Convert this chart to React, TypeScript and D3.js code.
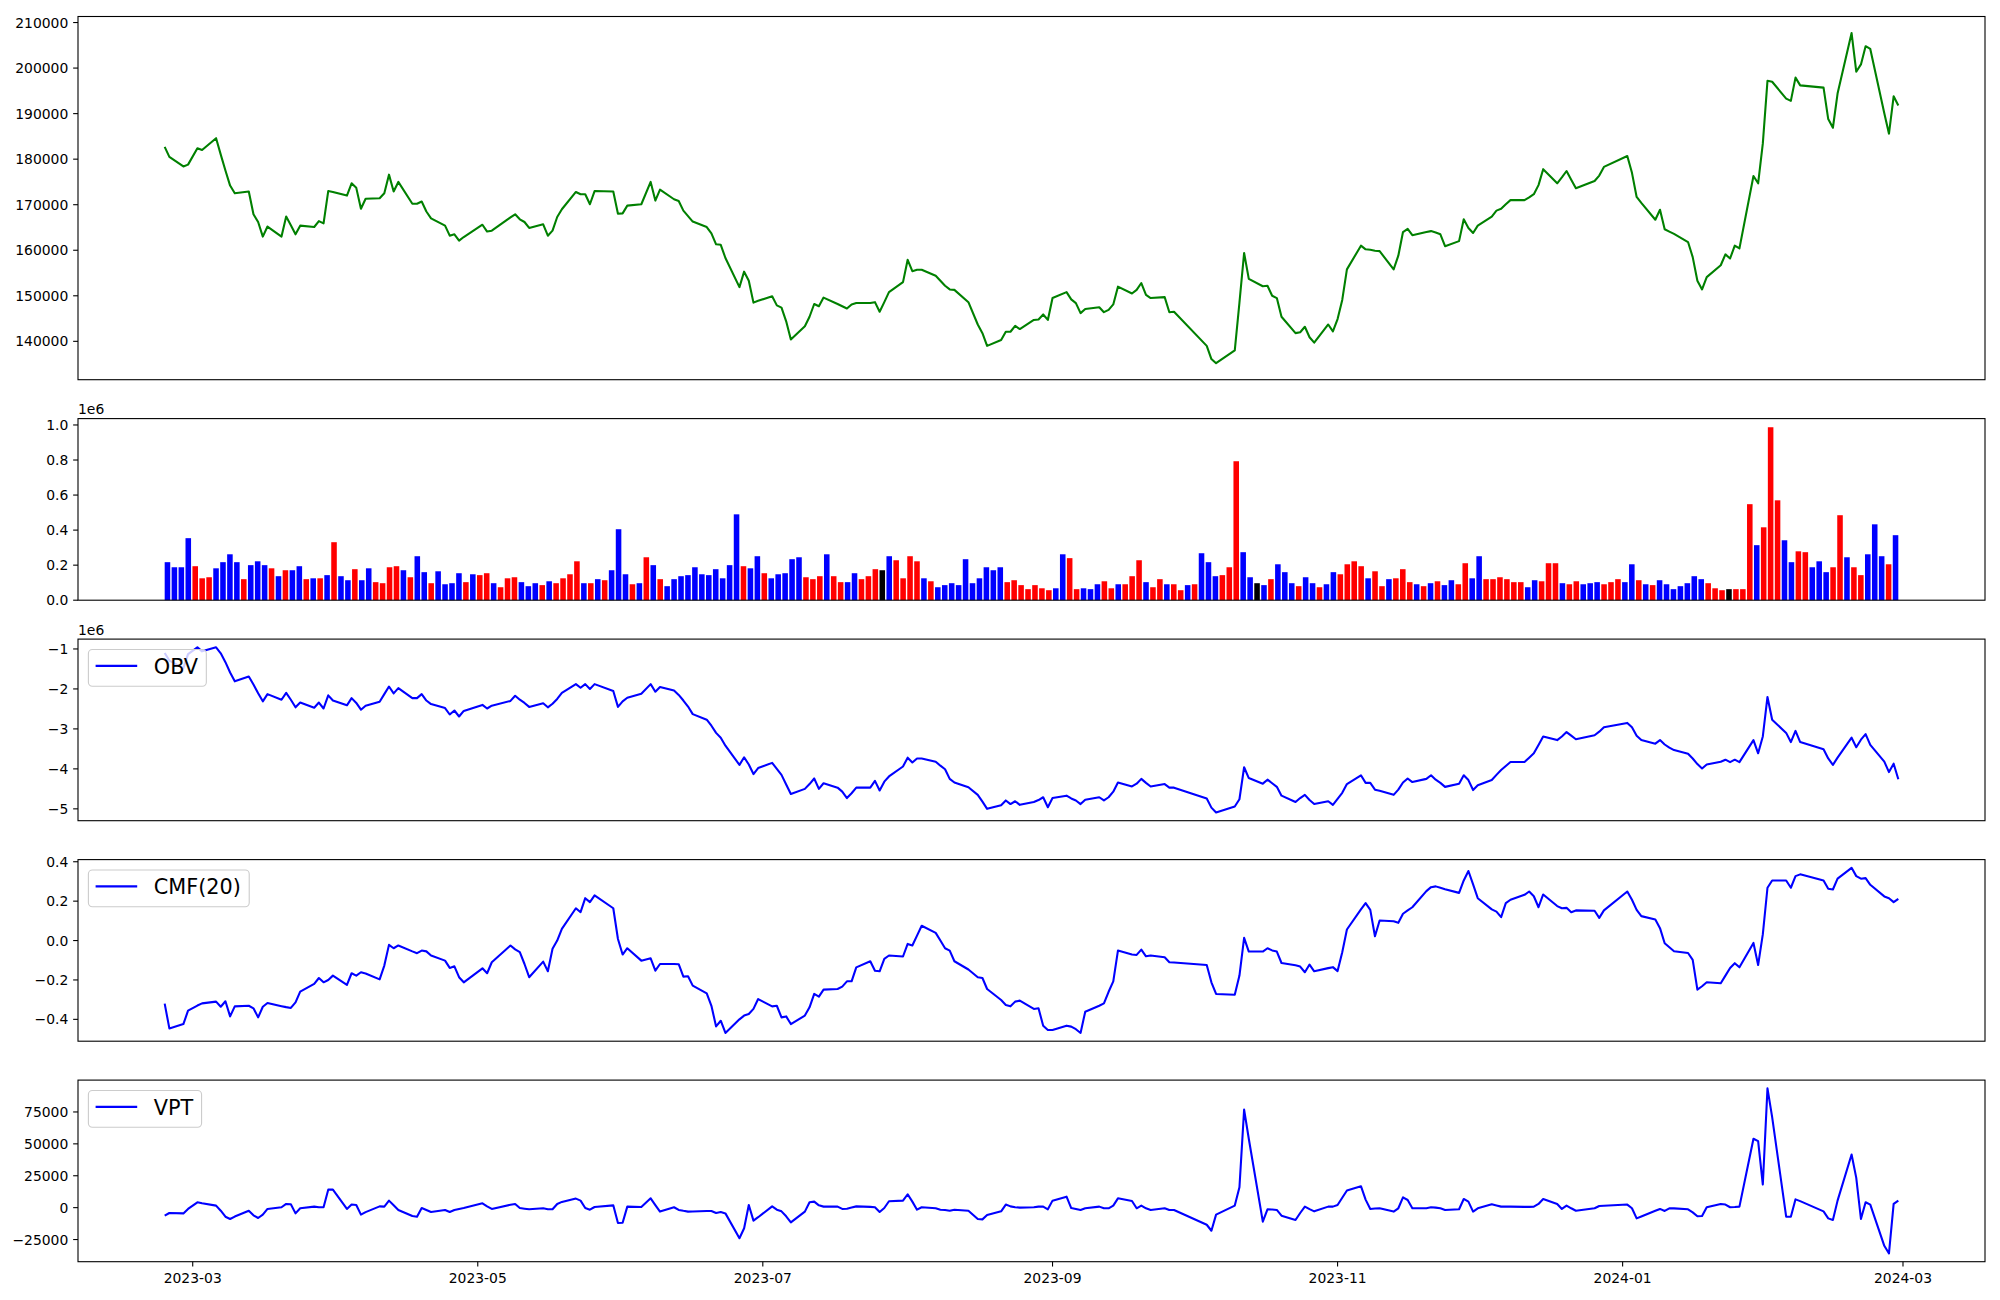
import React from "react";
import * as d3 from "d3";

// ---------- categories ----------
const FIRST_DAY = "2023-02-23";
const LAST_DAY = "2024-02-29";
const HOLIDAYS = [
  "2023-03-01", "2023-05-01", "2023-05-05", "2023-05-29", "2023-06-06", "2023-08-15",
  "2023-09-28", "2023-09-29", "2023-10-02", "2023-10-03", "2023-10-09", "2023-12-25",
  "2023-12-29", "2024-01-01", "2024-02-09", "2024-02-12",
];
const X_TICKS = ["2023-03-01", "2023-05-01", "2023-07-01", "2023-09-01", "2023-11-01", "2024-01-01", "2024-03-01"];
const X_TICK_LABELS = ["2023-03", "2023-05", "2023-07", "2023-09", "2023-11", "2024-01", "2024-03"];

// ---------- series ----------
const PRICE = [
  182700, 180500, 178400, 178800, 182400, 182000, 184600, 181000, 177500, 174200,
  172500, 172900, 167900, 166200, 163000, 165200, 163000, 167400, 165500, 163500,
  165400, 165100, 166400, 165900, 173000, 172800, 172000, 174700, 173700, 169100,
  171300, 171400, 172500, 176600, 172900, 175000, 170200, 170200, 170700, 168500,
  167000, 165400, 163200, 163500, 162100, 162900, 165600, 164100, 164300, 167200,
  167900, 166800, 166200, 164900, 165700, 163200, 164300, 167300, 169000, 172800,
  172300, 172300, 170100, 173000, 172900, 168000, 168100, 169800, 170100, 175000,
  170900, 173300, 171200, 170800, 168700, 167500, 166300, 165100, 163700, 161300,
  161200, 158300, 151900, 155300, 153300, 148500, 148900, 149900, 147900, 147400,
  144400, 140400, 143300, 145400, 148200, 147700, 149600, 148200, 147700, 147200,
  148100, 148400, 148400, 148600, 146500, 148600, 150800, 153000, 157900, 155400,
  155700, 155700, 154400, 153300, 152200, 151400, 151300, 148600, 143700, 141800,
  139000, 140300, 142100, 142100, 143400, 142700, 144700, 144800, 145900, 144700,
  149500, 150800, 149200, 148400, 146200, 147100, 147500, 146400, 146900, 148100,
  152000, 150500, 151300, 152800, 150200, 149500, 149700, 146400, 146500, 139000,
  136100, 135200, 138000, 148500, 159400, 153700, 152100, 152200, 150000, 149500,
  145400, 141800, 142000, 143200, 140900, 139700, 143700, 142200, 144900, 149100,
  155800, 161000, 160200, 160100, 159900, 159800, 155800, 158800, 164000, 164700,
  163300, 164000, 164200, 163900, 163500, 160900, 162000, 166800, 164900, 163800,
  165400, 167400, 168700, 169100, 170100, 171000, 171000, 171600, 172300, 174300,
  177800, 174700, 176000, 177400, 175500, 173600, 175200, 176400, 178300, 180700,
  177000, 171700, 170400, 166700, 168900, 164600, 164100, 163600, 161800, 158500,
  153300, 151400, 154100, 156700, 159100, 158200, 161000, 160400, 176300, 174700,
  183400, 197200, 197000, 193300, 192800, 197900, 196200, 195700, 188800, 186900,
  194400, 207700, 199200, 200800, 204800, 204200, 190100, 185600, 193800, 191800,
];

// volume in units of 1e6
const VOLUME_1E6 = [
  0.217, 0.188, 0.188, 0.354, 0.194, 0.125, 0.131, 0.182, 0.217, 0.262,
  0.217, 0.120, 0.200, 0.222, 0.200, 0.182, 0.137, 0.171, 0.171, 0.194,
  0.120, 0.125, 0.125, 0.143, 0.331, 0.137, 0.114, 0.177, 0.114, 0.182,
  0.103, 0.097, 0.188, 0.194, 0.171, 0.131, 0.251, 0.160, 0.097, 0.165,
  0.091, 0.097, 0.154, 0.103, 0.148, 0.143, 0.154, 0.097, 0.074, 0.125,
  0.131, 0.103, 0.080, 0.097, 0.086, 0.108, 0.097, 0.125, 0.148, 0.222,
  0.097, 0.097, 0.120, 0.114, 0.171, 0.405, 0.148, 0.091, 0.097, 0.245,
  0.200, 0.120, 0.080, 0.120, 0.137, 0.143, 0.188, 0.148, 0.143, 0.177,
  0.125, 0.200, 0.490, 0.194, 0.182, 0.251, 0.154, 0.125, 0.148, 0.154,
  0.234, 0.245, 0.131, 0.120, 0.137, 0.262, 0.137, 0.103, 0.103, 0.154,
  0.120, 0.137, 0.177, 0.171, 0.251, 0.228, 0.125, 0.251, 0.222, 0.125,
  0.108, 0.074, 0.086, 0.097, 0.086, 0.234, 0.097, 0.125, 0.188, 0.171,
  0.188, 0.103, 0.114, 0.086, 0.063, 0.086, 0.068, 0.057, 0.068, 0.262,
  0.240, 0.063, 0.068, 0.063, 0.091, 0.108, 0.068, 0.091, 0.091, 0.137,
  0.228, 0.103, 0.074, 0.120, 0.091, 0.091, 0.057, 0.086, 0.091, 0.268,
  0.217, 0.137, 0.143, 0.188, 0.793, 0.274, 0.131, 0.097, 0.086, 0.120,
  0.205, 0.160, 0.097, 0.080, 0.131, 0.097, 0.074, 0.091, 0.160, 0.148,
  0.205, 0.222, 0.194, 0.125, 0.165, 0.080, 0.120, 0.125, 0.177, 0.103,
  0.091, 0.080, 0.097, 0.108, 0.086, 0.114, 0.091, 0.211, 0.125, 0.251,
  0.120, 0.120, 0.131, 0.120, 0.103, 0.103, 0.074, 0.114, 0.108, 0.211,
  0.211, 0.097, 0.091, 0.108, 0.091, 0.097, 0.103, 0.091, 0.103, 0.120,
  0.103, 0.205, 0.114, 0.091, 0.086, 0.114, 0.091, 0.063, 0.080, 0.097,
  0.137, 0.120, 0.097, 0.068, 0.057, 0.063, 0.063, 0.063, 0.548, 0.314,
  0.416, 0.987, 0.570, 0.342, 0.217, 0.279, 0.274, 0.188, 0.222, 0.160,
  0.188, 0.485, 0.245, 0.188, 0.143, 0.262, 0.433, 0.251, 0.205, 0.371,
];

// bar colour codes: R = up, B = down, K = unchanged
const BAR_DIR = (
  "BBBBRRRBBB" + "BRBBBRBRBB" + "RBRBRBBRBB" + "RRRRBRBBRB" + "BBBRBRRBRR" +
  "RBBBRBRRRR" + "BRBRBBBRBR" + "BRBBBBBBBB" + "BBBRBBRBBB" + "BBRRRBRRBB" +
  "RRRKBRRRRB" + "RBBBBBBBBB" + "BRRRRRRRBB" + "RRBBBRRBRR" + "RBRRBRRBRB" +
  "BBRRRBBKBR" + "BBBRBBRBBR" + "RRRBRRBRRR" + "BRBRBBRRBB" + "RRRRRRBBRR" +
  "RBRRBBBRRR" + "BBRBRBBBBB" + "BBRRRKRRRB" + "RRRBBRRBBB" + "RRBRRBBBRB"
).split("");

// OBV in units of 1e6
const OBV_1E6 = [
  -1.10, -1.29, -1.48, -1.13, -0.96, -1.06, -0.96, -1.11, -1.33, -1.59,
  -1.81, -1.69, -1.89, -2.11, -2.31, -2.13, -2.27, -2.10, -2.27, -2.46,
  -2.34, -2.47, -2.34, -2.49, -2.16, -2.29, -2.41, -2.23, -2.35, -2.52,
  -2.42, -2.32, -2.13, -1.94, -2.11, -1.98, -2.23, -2.23, -2.13, -2.29,
  -2.38, -2.48, -2.64, -2.54, -2.69, -2.55, -2.40, -2.49, -2.42, -2.30,
  -2.17, -2.27, -2.35, -2.45, -2.36, -2.46, -2.37, -2.25, -2.10, -1.88,
  -1.97, -1.88, -2.00, -1.88, -2.05, -2.45, -2.31, -2.22, -2.12, -1.88,
  -2.07, -1.95, -2.04, -2.15, -2.29, -2.44, -2.63, -2.77, -2.92, -3.10,
  -3.22, -3.42, -3.90, -3.71, -3.89, -4.13, -3.98, -3.85, -4.00, -4.15,
  -4.39, -4.63, -4.50, -4.38, -4.24, -4.50, -4.36, -4.47, -4.57, -4.73,
  -4.61, -4.47, -4.47, -4.30, -4.54, -4.32, -4.19, -3.94, -3.72, -3.84,
  -3.74, -3.74, -3.82, -3.92, -4.01, -4.25, -4.34, -4.46, -4.65, -4.82,
  -5.00, -4.91, -4.79, -4.88, -4.81, -4.90, -4.83, -4.78, -4.71, -4.96,
  -4.73, -4.67, -4.74, -4.79, -4.88, -4.77, -4.71, -4.79, -4.71, -4.57,
  -4.34, -4.44, -4.37, -4.25, -4.35, -4.44, -4.38, -4.47, -4.47, -4.74,
  -4.97, -5.09, -4.94, -4.76, -3.96, -4.23, -4.37, -4.27, -4.36, -4.45,
  -4.67, -4.83, -4.73, -4.65, -4.78, -4.88, -4.81, -4.90, -4.75, -4.60,
  -4.38, -4.16, -4.35, -4.35, -4.52, -4.55, -4.65, -4.52, -4.34, -4.24,
  -4.33, -4.25, -4.16, -4.27, -4.35, -4.45, -4.37, -4.16, -4.28, -4.53,
  -4.41, -4.28, -4.15, -4.03, -3.93, -3.83, -3.83, -3.72, -3.61, -3.40,
  -3.19, -3.28, -3.19, -3.08, -3.17, -3.26, -3.16, -3.07, -2.96, -2.85,
  -2.96, -3.17, -3.28, -3.37, -3.28, -3.39, -3.47, -3.53, -3.62, -3.74,
  -3.88, -3.99, -3.89, -3.82, -3.77, -3.83, -3.77, -3.83, -3.28, -3.61,
  -3.19, -2.20, -2.77, -3.10, -3.33, -3.05, -3.33, -3.51, -3.74, -3.90,
  -3.72, -3.22, -3.46, -3.27, -3.13, -3.40, -3.82, -4.08, -3.87, -4.26,
];

const CMF_20 = [
  -0.320, -0.446, -0.424, -0.356, -0.330, -0.319, -0.310, -0.336, -0.308, -0.385,
  -0.334, -0.331, -0.344, -0.390, -0.336, -0.317, -0.333, -0.338, -0.342, -0.314,
  -0.259, -0.220, -0.190, -0.212, -0.200, -0.178, -0.225, -0.166, -0.178, -0.161,
  -0.167, -0.197, -0.127, -0.022, -0.039, -0.025, -0.055, -0.064, -0.051, -0.055,
  -0.076, -0.102, -0.139, -0.131, -0.186, -0.212, -0.141, -0.166, -0.110, -0.025,
  -0.045, -0.059, -0.119, -0.186, -0.107, -0.156, -0.042, 0.000, 0.059, 0.164,
  0.144, 0.215, 0.195, 0.229, 0.164, 0.008, -0.071, -0.039, -0.102, -0.090,
  -0.153, -0.119, -0.119, -0.120, -0.183, -0.181, -0.229, -0.268, -0.331, -0.436,
  -0.407, -0.469, -0.400, -0.381, -0.373, -0.347, -0.297, -0.334, -0.331, -0.390,
  -0.385, -0.424, -0.381, -0.339, -0.271, -0.285, -0.249, -0.246, -0.234, -0.207,
  -0.207, -0.136, -0.105, -0.153, -0.156, -0.093, -0.076, -0.081, -0.017, -0.025,
  0.025, 0.075, 0.039, 0.000, -0.039, -0.051, -0.105, -0.147, -0.186, -0.190,
  -0.246, -0.302, -0.327, -0.334, -0.310, -0.305, -0.347, -0.344, -0.432, -0.454,
  -0.454, -0.432, -0.437, -0.450, -0.469, -0.361, -0.331, -0.319, -0.260, -0.207,
  -0.051, -0.071, -0.073, -0.046, -0.080, -0.076, -0.085, -0.110, -0.111, -0.124,
  -0.212, -0.271, -0.275, -0.178, 0.014, -0.056, -0.056, -0.039, -0.050, -0.056,
  -0.114, -0.125, -0.132, -0.161, -0.122, -0.156, -0.140, -0.135, -0.155, -0.059,
  0.056, 0.158, 0.190, 0.156, 0.022, 0.102, 0.098, 0.090, 0.136, 0.153,
  0.169, 0.251, 0.271, 0.275, 0.268, 0.261, 0.242, 0.305, 0.353, 0.285,
  0.215, 0.158, 0.147, 0.119, 0.190, 0.207, 0.232, 0.249, 0.225, 0.169,
  0.234, 0.175, 0.164, 0.166, 0.144, 0.153, 0.151, 0.115, 0.153, 0.249,
  0.207, 0.156, 0.124, 0.107, 0.063, -0.014, -0.034, -0.054, -0.063, -0.098,
  -0.249, -0.232, -0.212, -0.217, -0.178, -0.139, -0.115, -0.136, -0.012, -0.124,
  0.031, 0.268, 0.305, 0.305, 0.268, 0.327, 0.336, 0.305, 0.263, 0.259,
  0.314, 0.369, 0.327, 0.314, 0.317, 0.283, 0.224, 0.215, 0.195, 0.212,
];

const VPT = [
  -6300, -4200, -4500, -1000, 4200, 3400, 1600, -2400, -7100, -8900,
  -7000, -2400, -6000, -8100, -5500, -1000, 300, 2900, 2600, -4500,
  -500, 800, 300, 300, 14100, 14100, -1000, 2400, 2100, -5500,
  -3500, 1000, 800, 5500, 1800, -1800, -6600, -7100, -300, -1800,
  -3400, -1800, -3400, -1800, -1000, -300, 3400, 1000, -1000, 2300,
  2900, -300, -800, -1300, -500, -1300, -1300, 2900, 4500, 7100,
  5500, -300, -1600, 500, 1800, -12100, -11800, 800, 500, 7300,
  2000, -3100, 300, -1800, -2500, -3100, -3000, -2600, -2600, -4200,
  -3400, -4500, -24000, -16200, 2100, -10200, -7500, 1000, -1600, -2900,
  -6800, -11500, -3100, 4200, 4700, 1800, 800, 800, -1000, -800,
  100, 1000, 600, 300, -3400, -300, 5000, 5500, 10500, 4700,
  -1600, 300, -500, -1600, -1800, -2400, -1600, -2400, -8900, -9200,
  -5800, -2900, 2400, 1000, 300, 0, 300, 800, 800, -1300,
  5500, 8600, -300, -1000, -1800, -500, 800, -500, -500, 1600,
  7300, 5200, -500, 1600, -500, -1800, -500, -1800, -1800, -13400,
  -18100, -5500, 1600, 16000, 76800, 54000, -11000, -1300, -1500, -1800,
  -6300, -9700, -4200, 800, -1200, -2900, 800, 800, 2100, 7800,
  13400, 16800, 6300, -1000, -700, -500, -3100, -500, 8100, 6000,
  -500, -500, 300, 0, -500, -1800, -1300, 6800, 4700, -3100,
  -500, 2600, 1700, 800, 800, 800, 600, 600, 800, 2900,
  6800, 2900, -1000, 1600, -500, -2400, -500, 1300, 1500, 2400,
  -500, -8400, -6900, -2500, -1000, -2600, -500, -600, -1300, -3700,
  -6800, -6600, 300, 2900, 2400, 300, 500, 800, 54000, 52100,
  18100, 93500, 71000, -7100, -7100, 6500, 5100, -2900, -8400, -9700,
  5500, 41700, 23300, -8900, 4200, 2400, -29900, -35900, 2900, 5500,
];

// ---------- tick values ----------
const PRICE_TICKS = [140000, 150000, 160000, 170000, 180000, 190000, 200000, 210000];
const VOL_TICKS = [0, 0.2, 0.4, 0.6, 0.8, 1.0];
const OBV_TICKS = [-5, -4, -3, -2, -1];
const CMF_TICKS = [-0.4, -0.2, 0.0, 0.2, 0.4];
const VPT_TICKS = [-25000, 0, 25000, 50000, 75000];

const BAR_COLORS: Record<string, string> = { R: "#ff0000", B: "#0000ff", K: "#000000" };

// ---------- layout ----------
const W = 2000;
const H = 1300;
const LEFT = 78;
const RIGHT = 1985;
const PANELS = [
  { top: 16.5, bottom: 379.7 },
  { top: 418.6, bottom: 600.2 },
  { top: 639.1, bottom: 820.7 },
  { top: 859.6, bottom: 1041.2 },
  { top: 1080.1, bottom: 1261.7 },
];
const FONT = "DejaVu Sans, Liberation Sans, sans-serif";
const TICK_FS = 13.9;
const LEG_FS = 20.8;
const TICK_LEN = 4.86;
const LW = 2.08;

function utc(s: string) {
  return new Date(s + "T00:00:00Z");
}

function tradingDays(): Date[] {
  const out: Date[] = [];
  const hol = new Set(HOLIDAYS);
  const end = utc(LAST_DAY);
  for (let d = utc(FIRST_DAY); d <= end; d = new Date(d.getTime() + 86400000)) {
    const wd = d.getUTCDay();
    const key = d.toISOString().slice(0, 10);
    if (wd !== 0 && wd !== 6 && !hol.has(key)) out.push(d);
  }
  return out;
}

const minus = (s: string) => s.replace("-", "\u2212");

function padDomain(vals: number[]): [number, number] {
  const [lo, hi] = d3.extent(vals) as [number, number];
  const p = (hi - lo) * 0.05;
  return [lo - p, hi + p];
}

let _ctx: CanvasRenderingContext2D | null = null;
function measure(text: string, size: number) {
  if (!_ctx) _ctx = document.createElement("canvas").getContext("2d");
  if (!_ctx) return text.length * size * 0.6;
  _ctx.font = `${size}px "DejaVu Sans"`;
  return _ctx.measureText(text).width;
}

function YAxis({ scale, ticks, fmt }: { scale: d3.ScaleLinear<number, number>; ticks: number[]; fmt: (v: number) => string }) {
  return (
    <g>
      {ticks.map((t) => {
        const y = scale(t);
        return (
          <g key={t}>
            <line x1={LEFT - TICK_LEN} x2={LEFT} y1={y} y2={y} stroke="#000" strokeWidth={1.1} />
            <text
              x={LEFT - TICK_LEN - 4.86}
              y={y}
              textAnchor="end"
              dominantBaseline="central"
              fontSize={TICK_FS}
              fontFamily={FONT}
              fill="#000"
            >
              {minus(fmt(t))}
            </text>
          </g>
        );
      })}
    </g>
  );
}

function Frame({ top, bottom }: { top: number; bottom: number }) {
  return (
    <rect x={LEFT} y={top} width={RIGHT - LEFT} height={bottom - top} fill="none" stroke="#000" strokeWidth={1.1} />
  );
}

function Legend({ top, label }: { top: number; label: string }) {
  const x0 = LEFT + 10.4;
  const y0 = top + 10.4;
  const tw = measure(label, LEG_FS);
  const w = 65.4 + tw + 8.3;
  const h = 36.7;
  return (
    <g>
      <rect x={x0} y={y0} width={w} height={h} rx={4} ry={4} fill="#fff" fillOpacity={0.8} stroke="#cccccc" strokeWidth={1.1} />
      <line x1={x0 + 7.2} x2={x0 + 48.8} y1={y0 + 16.4} y2={y0 + 16.4} stroke="#0000ff" strokeWidth={LW} />
      <text x={x0 + 65.4} y={y0 + 24} fontSize={LEG_FS} fontFamily={FONT} fill="#000">
        {label}
      </text>
    </g>
  );
}

export default function App() {
  const dates = tradingDays();
  const n = dates.length;

  const xDomainSpan = dates[n - 1].getTime() - dates[0].getTime();
  const x = d3
    .scaleUtc()
    .domain([new Date(dates[0].getTime() - xDomainSpan * 0.05), new Date(dates[n - 1].getTime() + xDomainSpan * 0.05)])
    .range([LEFT, RIGHT]);

  const idxSpan = n - 1 + 0.8;
  const xb = d3
    .scaleLinear()
    .domain([-0.4 - idxSpan * 0.05, n - 1 + 0.4 + idxSpan * 0.05])
    .range([LEFT, RIGHT]);
  const barW = xb(0.8) - xb(0);

  const yPrice = d3.scaleLinear().domain(padDomain(PRICE)).range([PANELS[0].bottom, PANELS[0].top]);
  const yVol = d3.scaleLinear().domain([0, (d3.max(VOLUME_1E6) as number) * 1.05]).range([PANELS[1].bottom, PANELS[1].top]);
  const yObv = d3.scaleLinear().domain(padDomain(OBV_1E6)).range([PANELS[2].bottom, PANELS[2].top]);
  const yCmf = d3.scaleLinear().domain(padDomain(CMF_20)).range([PANELS[3].bottom, PANELS[3].top]);
  const yVpt = d3.scaleLinear().domain(padDomain(VPT)).range([PANELS[4].bottom, PANELS[4].top]);

  const mkLine = (ys: d3.ScaleLinear<number, number>) =>
    d3
      .line<number>()
      .x((_, i) => x(dates[i]))
      .y((v) => ys(v));

  return (
    <svg
      width={W}
      height={H}
      viewBox={`0 0 ${W} ${H}`}
      style={{ position: "absolute", left: 0, top: 0, background: "#fff" }}
    >
      <rect x={0} y={0} width={W} height={H} fill="#fff" />

      {/* Panel 1: price */}
      <path d={mkLine(yPrice)(PRICE) || ""} fill="none" stroke="#008000" strokeWidth={LW} strokeLinejoin="round" />
      <Frame {...PANELS[0]} />
      <YAxis scale={yPrice} ticks={PRICE_TICKS} fmt={(v) => String(v)} />

      {/* Panel 2: volume */}
      {VOLUME_1E6.map((v, i) => (
        <rect
          key={i}
          x={xb(i) - barW / 2}
          y={yVol(v)}
          width={barW}
          height={yVol(0) - yVol(v)}
          fill={BAR_COLORS[BAR_DIR[i]]}
        />
      ))}
      <Frame {...PANELS[1]} />
      <YAxis scale={yVol} ticks={VOL_TICKS} fmt={(v) => v.toFixed(1)} />
      <text x={LEFT} y={PANELS[1].top - 4.6} fontSize={TICK_FS} fontFamily={FONT} fill="#000">
        1e6
      </text>

      {/* Panel 3: OBV */}
      <path d={mkLine(yObv)(OBV_1E6) || ""} fill="none" stroke="#0000ff" strokeWidth={LW} strokeLinejoin="round" />
      <Frame {...PANELS[2]} />
      <YAxis scale={yObv} ticks={OBV_TICKS} fmt={(v) => String(v)} />
      <text x={LEFT} y={PANELS[2].top - 4.6} fontSize={TICK_FS} fontFamily={FONT} fill="#000">
        1e6
      </text>
      <Legend top={PANELS[2].top} label="OBV" />

      {/* Panel 4: CMF */}
      <path d={mkLine(yCmf)(CMF_20) || ""} fill="none" stroke="#0000ff" strokeWidth={LW} strokeLinejoin="round" />
      <Frame {...PANELS[3]} />
      <YAxis scale={yCmf} ticks={CMF_TICKS} fmt={(v) => v.toFixed(1)} />
      <Legend top={PANELS[3].top} label="CMF(20)" />

      {/* Panel 5: VPT */}
      <path d={mkLine(yVpt)(VPT) || ""} fill="none" stroke="#0000ff" strokeWidth={LW} strokeLinejoin="round" />
      <Frame {...PANELS[4]} />
      <YAxis scale={yVpt} ticks={VPT_TICKS} fmt={(v) => String(v)} />
      <Legend top={PANELS[4].top} label="VPT" />

      {/* x axis of bottom panel */}
      {X_TICKS.map((t, i) => {
        const xx = x(utc(t));
        return (
          <g key={t}>
            <line x1={xx} x2={xx} y1={PANELS[4].bottom} y2={PANELS[4].bottom + TICK_LEN} stroke="#000" strokeWidth={1.1} />
            <text
              x={xx}
              y={PANELS[4].bottom + 21.5}
              textAnchor="middle"
              fontSize={TICK_FS}
              fontFamily={FONT}
              fill="#000"
            >
              {X_TICK_LABELS[i]}
            </text>
          </g>
        );
      })}
    </svg>
  );
}
